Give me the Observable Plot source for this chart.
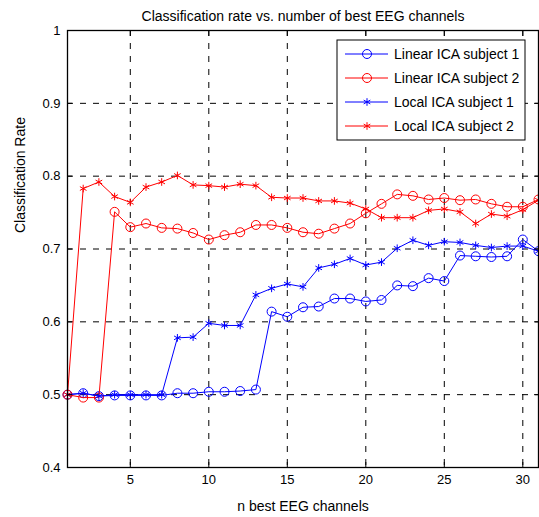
<!DOCTYPE html>
<html><head><meta charset="utf-8">
<script src="https://cdn.jsdelivr.net/npm/d3@7"></script>
<script src="https://cdn.jsdelivr.net/npm/@observablehq/plot@0.6"></script>
<style>body{margin:0;background:#fff} svg{font-family:"Liberation Sans",Arial,sans-serif}</style>
</head><body><div id="chart"></div><script>
const channels = [1,2,3,4,5,6,7,8,9,10,11,12,13,14,15,16,17,18,19,20,21,22,23,24,25,26,27,28,29,30,31];
const linear1 = [0.500,0.502,0.498,0.499,0.499,0.499,0.499,0.502,0.502,0.504,0.504,0.505,0.507,0.614,0.607,0.620,0.621,0.632,0.632,0.628,0.630,0.650,0.649,0.660,0.656,0.691,0.690,0.689,0.690,0.713,0.697];
const linear2 = [0.500,0.496,0.496,0.751,0.730,0.735,0.729,0.728,0.722,0.713,0.719,0.723,0.733,0.733,0.729,0.723,0.721,0.728,0.735,0.749,0.762,0.775,0.773,0.768,0.770,0.767,0.768,0.762,0.758,0.758,0.768];
const local1 = [0.500,0.502,0.498,0.500,0.500,0.500,0.500,0.578,0.579,0.598,0.595,0.595,0.637,0.646,0.652,0.648,0.674,0.679,0.687,0.678,0.682,0.701,0.712,0.705,0.710,0.709,0.705,0.702,0.704,0.704,0.697];
const local2 = [0.500,0.783,0.792,0.772,0.764,0.785,0.792,0.801,0.788,0.787,0.785,0.789,0.787,0.771,0.770,0.770,0.766,0.766,0.763,0.755,0.743,0.743,0.743,0.753,0.755,0.751,0.735,0.748,0.745,0.754,0.767];
const seriesNames = ["Linear ICA subject 1","Linear ICA subject 2","Local ICA subject 1","Local ICA subject 2"];
const seriesColors = ["#0000ff","#ff0000","#0000ff","#ff0000"];
const seriesSymbols = ["circle","circle","asterisk","asterisk"];
const xTicks = [5,10,15,20,25,30];
const yTicks = [0.4,0.5,0.6,0.7,0.8,0.9,1];
const title = "Classification rate vs. number of best EEG channels";
const xLabel = "n best EEG channels";
const yLabel = "Classification Rate";

const allSeries = [linear1, linear2, local1, local2];
const rows = [];
allSeries.forEach((vals, s) => vals.forEach((v, i) => rows.push({n: channels[i], v, s: seriesNames[s], k: s})));

const marks = [
  Plot.gridX(xTicks, {stroke: "#000", strokeOpacity: 1, strokeDasharray: "6,7"}),
  Plot.gridY(yTicks.slice(1, -1), {stroke: "#000", strokeOpacity: 1, strokeDasharray: "6,7"}),
];
allSeries.forEach((vals, s) => {
  const data = rows.filter(d => d.k === s);
  marks.push(Plot.line(data, {x: "n", y: "v", stroke: seriesColors[s], strokeWidth: 1}));
  marks.push(Plot.dot(data, {x: "n", y: "v", stroke: seriesColors[s], fill: "none", symbol: seriesSymbols[s], r: s < 2 ? 4.5 : 3.6, strokeWidth: 1}));
});
marks.push(
  Plot.frame({stroke: "#000", strokeWidth: 1.3}),
  Plot.axisX(xTicks, {anchor: "bottom", tickSize: -5, tickPadding: 12, fontSize: 13, label: null}),
  Plot.axisX(xTicks, {anchor: "top", tickSize: -5, text: null, label: null}),
  Plot.axisY(yTicks, {anchor: "left", tickSize: -5, tickPadding: 12, fontSize: 13, label: null, tickFormat: d3.format("")}),
  Plot.axisY(yTicks, {anchor: "right", tickSize: -5, text: null, label: null}),
  Plot.text([title], {frameAnchor: "top", dy: -19, fontSize: 14}),
  Plot.text([xLabel], {frameAnchor: "bottom", dy: 43, fontSize: 14}),
  Plot.text([yLabel], {frameAnchor: "left", dx: -47, dy: -16, rotate: -90, fontSize: 14})
);

const chart = Plot.plot({
  width: 539, height: 517,
  marginTop: 30, marginBottom: 50, marginLeft: 67, marginRight: 1,
  x: {domain: [1, 31]},
  y: {domain: [0.4, 1]},
  style: {fontFamily: '"Liberation Sans", Arial, sans-serif', fontSize: "12px", color: "#000", background: "#fff"},
  marks
});

// legend
const svg = d3.select(chart);
const lg = svg.append("g").attr("transform", "translate(337,40)");
lg.append("rect").attr("width", 188).attr("height", 100).attr("fill", "#fff").attr("stroke", "#000").attr("stroke-width", 1);
seriesNames.forEach((name, i) => {
  const y = 14 + i * 24;
  lg.append("line").attr("x1", 8).attr("x2", 51).attr("y1", y).attr("y2", y).attr("stroke", seriesColors[i]).attr("stroke-width", 1);
  const sym = d3.symbol().type(seriesSymbols[i] === "circle" ? d3.symbolCircle : d3.symbolAsterisk).size(seriesSymbols[i] === "circle" ? Math.PI * 4.5 * 4.5 : Math.PI * 3.6 * 3.6);
  lg.append("path").attr("d", sym()).attr("transform", `translate(30,${y})`).attr("fill", "none").attr("stroke", seriesColors[i]);
  lg.append("text").attr("x", 57).attr("y", y).attr("dy", "0.35em")
    .style("font-size", "14px").style("text-anchor", "start").attr("fill", "#000").text(name);
});
document.getElementById("chart").append(chart);
</script></body></html>
